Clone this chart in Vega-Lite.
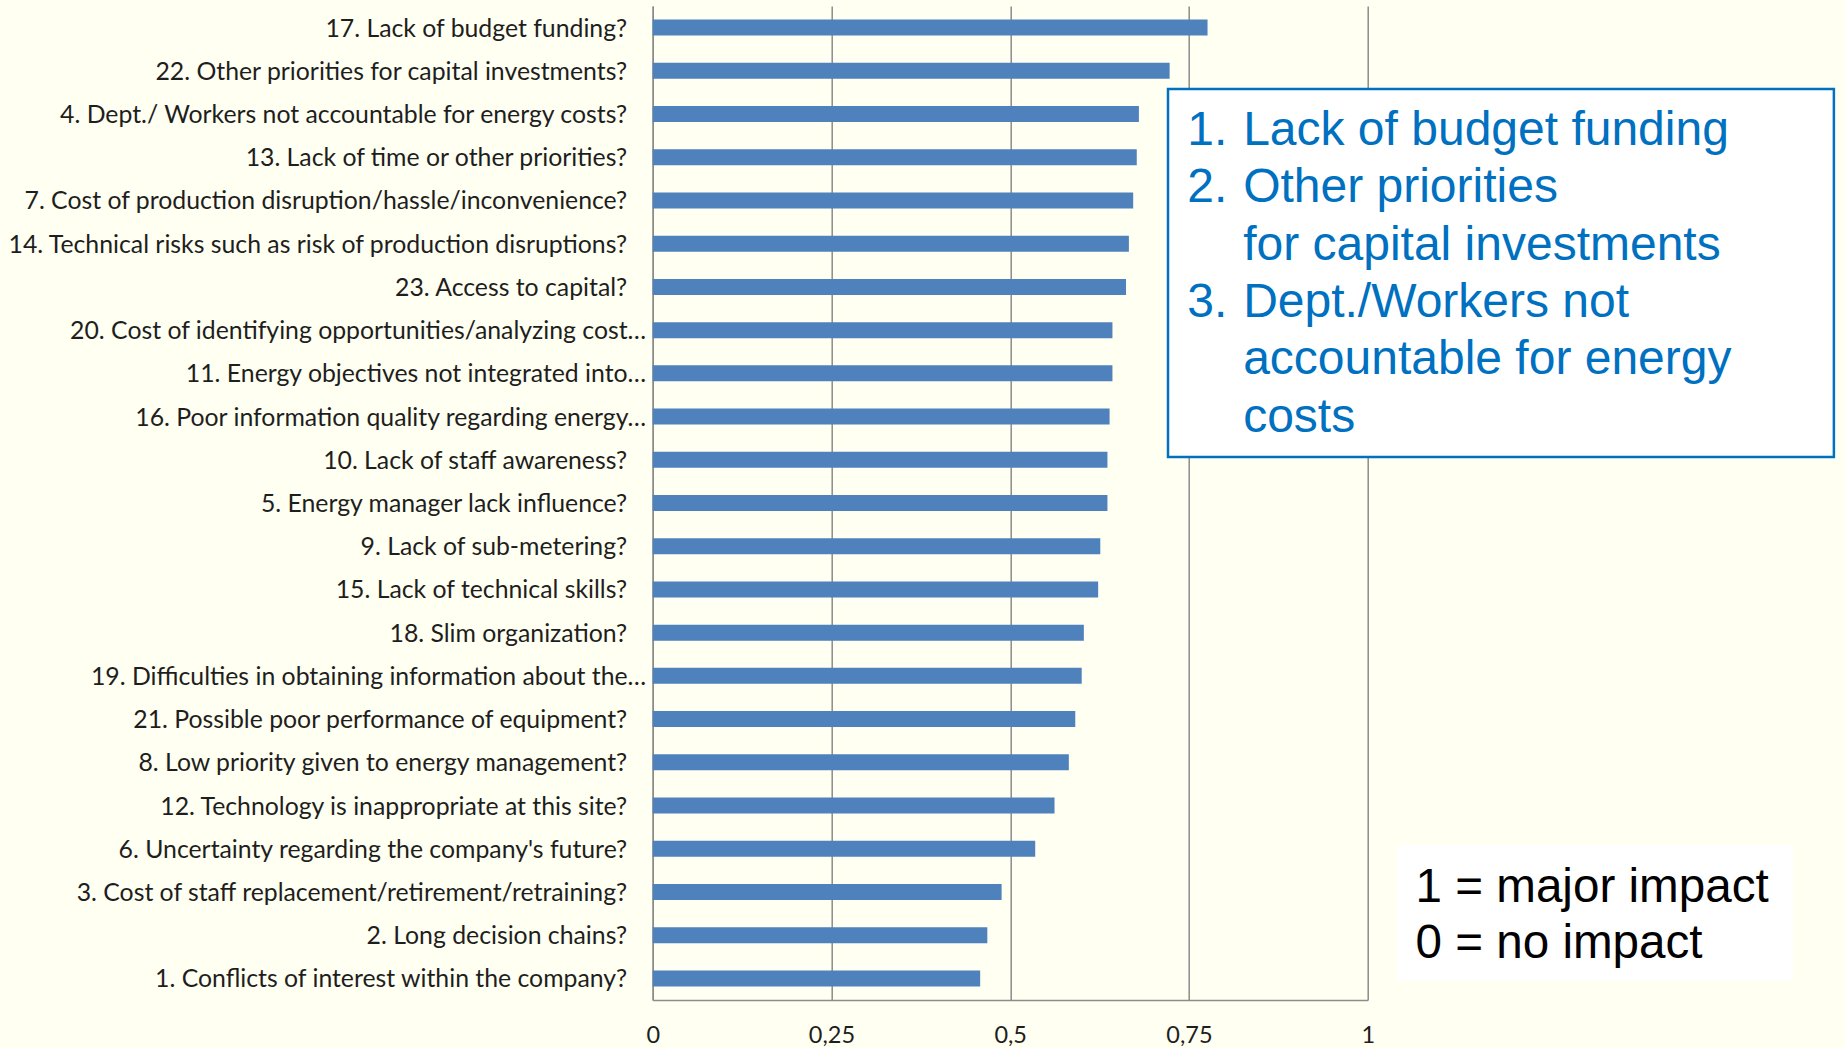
{
  "$schema": "https://vega.github.io/schema/vega-lite/v6.json",
  "width": 715,
  "height": 994,
  "autosize": {"type": "none"},
  "padding": {"left": 652.7, "top": 6, "right": 477.3, "bottom": 48},
  "background": "#FFFFF2",
  "config": {"view": {"stroke": null}, "font": "Lato"},
  "layer": [
    {
      "data": {
        "values": [
          {"barrier": "17. Lack of budget funding?", "score": 0.776},
          {"barrier": "22. Other priorities for capital investments?", "score": 0.723},
          {"barrier": "4. Dept./ Workers not accountable for energy costs?", "score": 0.680},
          {"barrier": "13. Lack of time or other priorities?", "score": 0.677},
          {"barrier": "7. Cost of production disruption/hassle/inconvenience?", "score": 0.672},
          {"barrier": "14. Technical risks such as risk of production disruptions?", "score": 0.666},
          {"barrier": "23. Access to capital?", "score": 0.662},
          {"barrier": "20. Cost of identifying opportunities/analyzing cost…", "score": 0.643},
          {"barrier": "11. Energy objectives not integrated into…", "score": 0.643},
          {"barrier": "16. Poor information quality regarding energy…", "score": 0.639},
          {"barrier": "10. Lack of staff awareness?", "score": 0.636},
          {"barrier": "5. Energy manager lack influence?", "score": 0.636},
          {"barrier": "9. Lack of sub-metering?", "score": 0.626},
          {"barrier": "15. Lack of technical skills?", "score": 0.623},
          {"barrier": "18. Slim organization?", "score": 0.603},
          {"barrier": "19. Difficulties in obtaining information about the…", "score": 0.600},
          {"barrier": "21. Possible poor performance of equipment?", "score": 0.591},
          {"barrier": "8. Low priority given to energy management?", "score": 0.582},
          {"barrier": "12. Technology is inappropriate at this site?", "score": 0.562},
          {"barrier": "6. Uncertainty regarding the company's future?", "score": 0.535},
          {"barrier": "3. Cost of staff replacement/retirement/retraining?", "score": 0.488},
          {"barrier": "2. Long decision chains?", "score": 0.468},
          {"barrier": "1. Conflicts of interest within the company?", "score": 0.458}
        ]
      },
      "mark": {"type": "bar", "color": "#4F81BD"},
      "encoding": {
        "y": {
          "field": "barrier",
          "type": "nominal",
          "sort": null,
          "scale": {"paddingInner": 0.63, "paddingOuter": 0.315},
          "axis": {
            "title": null,
            "domain": true,
            "domainColor": "#8c8c8c",
            "domainWidth": 1.5,
            "ticks": false,
            "grid": false,
            "labelFont": "Lato",
            "labelFontSize": 24.8,
            "labelColor": "#1e1e1e",
            "labelLimit": 0,
            "labelOffset": 2,
            "labelPadding": {"condition": {"test": "indexof(datum.value, '…') >= 0", "value": 7}, "value": 26}
          }
        },
        "x": {
          "field": "score",
          "type": "quantitative",
          "scale": {"domain": [0, 1], "nice": false},
          "axis": {
            "title": null,
            "values": [0, 0.25, 0.5, 0.75, 1],
            "format": "~g",
            "labelExpr": "replace(datum.label, '.', ',')",
            "grid": true,
            "gridColor": "#8c8c8c",
            "gridWidth": 1.5,
            "domainColor": "#8c8c8c",
            "domainWidth": 1.5,
            "ticks": false,
            "labelFlush": false,
            "labelPadding": 23,
            "labelFont": "Lato",
            "labelFontSize": 23.5,
            "labelColor": "#1e1e1e"
          }
        }
      }
    },
    {
      "data": {"values": [{}]},
      "mark": {"type": "rect", "fill": "white", "stroke": "#0070C0", "strokeWidth": 2.5},
      "encoding": {
        "x": {"datum": 0.7207, "type": "quantitative"},
        "x2": {"datum": 1.652},
        "y": {"datum": 1.9205, "type": "quantitative", "scale": {"domain": [0, 23], "reverse": true, "nice": false, "zero": false}, "axis": null},
        "y2": {"datum": 10.436}
      }
    },
    {
      "data": {"values": [{}]},
      "mark": {"type": "text", "align": "left", "baseline": "alphabetic", "font": "Liberation Sans", "fontSize": 48, "lineHeight": 57.3, "color": "#0070C0", "text": ["1.", "2."]},
      "encoding": {
        "x": {"datum": 0.7476, "type": "quantitative"},
        "y": {"datum": 3.2163, "type": "quantitative", "scale": {"domain": [0, 23], "reverse": true, "nice": false, "zero": false}, "axis": null}
      }
    },
    {
      "data": {"values": [{}]},
      "mark": {"type": "text", "align": "left", "baseline": "alphabetic", "font": "Liberation Sans", "fontSize": 48, "color": "#0070C0", "text": "3."},
      "encoding": {
        "x": {"datum": 0.7476, "type": "quantitative"},
        "y": {"datum": 7.1939, "type": "quantitative", "scale": {"domain": [0, 23], "reverse": true, "nice": false, "zero": false}, "axis": null}
      }
    },
    {
      "data": {"values": [{}]},
      "mark": {"type": "text", "align": "left", "baseline": "alphabetic", "font": "Liberation Sans", "fontSize": 48, "lineHeight": 57.3, "color": "#0070C0", "text": ["Lack of budget funding", "Other priorities", "for capital investments", "Dept./Workers not", "accountable for energy", "costs"]},
      "encoding": {
        "x": {"datum": 0.8258, "type": "quantitative"},
        "y": {"datum": 3.2163, "type": "quantitative", "scale": {"domain": [0, 23], "reverse": true, "nice": false, "zero": false}, "axis": null}
      }
    },
    {
      "data": {"values": [{}]},
      "mark": {"type": "rect", "fill": "white"},
      "encoding": {
        "x": {"datum": 1.0396, "type": "quantitative"},
        "x2": {"datum": 1.5948},
        "y": {"datum": 19.414, "type": "quantitative", "scale": {"domain": [0, 23], "reverse": true, "nice": false, "zero": false}, "axis": null},
        "y2": {"datum": 22.537}
      }
    },
    {
      "data": {"values": [{}]},
      "mark": {"type": "text", "align": "left", "baseline": "alphabetic", "font": "Liberation Sans", "fontSize": 47.6, "lineHeight": 56.6, "color": "#000000", "text": ["1 = major impact", "0 = no impact"]},
      "encoding": {
        "x": {"datum": 1.0669, "type": "quantitative"},
        "y": {"datum": 20.726, "type": "quantitative", "scale": {"domain": [0, 23], "reverse": true, "nice": false, "zero": false}, "axis": null}
      }
    }
  ],
  "resolve": {"scale": {"y": "independent"}}
}
